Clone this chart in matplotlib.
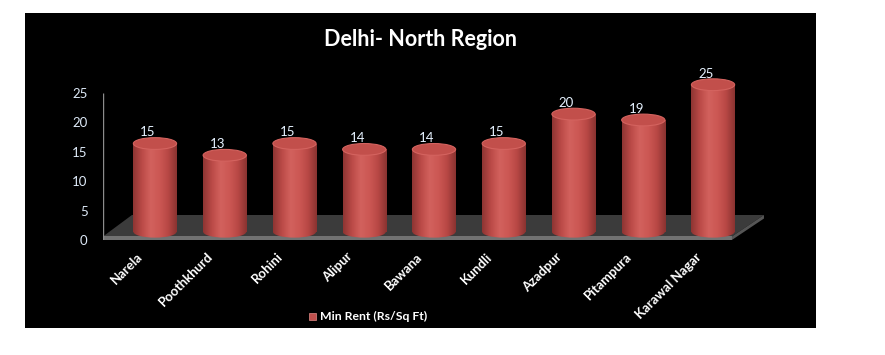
import matplotlib
matplotlib.use("Agg")
import matplotlib.pyplot as plt
import matplotlib.patches as patches
from matplotlib.colors import LinearSegmentedColormap
import numpy as np

# data
areas = ['Narela', 'Poothkhurd', 'Rohini', 'Alipur', 'Bawana',
         'Kundli', 'Azadpur', 'Pitampura', 'Karawal Nagar']
min_rent = [15, 13, 15, 14, 14, 15, 20, 19, 25]
yticks = [0, 5, 10, 15, 20, 25]
series_name = 'Min Rent (Rs/Sq Ft)'
title = 'Delhi- North Region'

plt.rcParams['font.family'] = ['Lato', 'DejaVu Sans']

W, H = 885, 355
fig = plt.figure(figsize=(W / 100, H / 100), dpi=100)
fig.patch.set_facecolor('white')

# black chart area
fig.patches.append(patches.Rectangle((25 / W, 1 - 328 / H), (816 - 25) / W, (328 - 13) / H,
                                     transform=fig.transFigure, facecolor='black',
                                     edgecolor='none', zorder=-5))

ax = fig.add_axes([103 / W, (H - 240) / H, (780 - 103) / W, (240 - 60) / H])
ax.set_facecolor('none')
ax.set_zorder(2)
x0, x1 = -0.745, 8.96
y0, y1 = 0, 30.6

# floor (3d base)
depth = 4.25
floor_top = patches.Polygon([(-0.745, 0.6), (8.27, 0.6), (8.73, depth), (-0.33, depth)],
                            closed=True, facecolor='#3b3b3b', edgecolor='none', zorder=1)
floor_front = patches.Polygon([(-0.745, 0), (8.27, 0), (8.27, 0.6), (-0.745, 0.6)],
                              closed=True, facecolor='#727272', edgecolor='none', zorder=1)
floor_side = patches.Polygon([(8.27, 0), (8.73, depth - 0.6), (8.73, depth), (8.27, 0.6)],
                             closed=True, facecolor='#555555', edgecolor='none', zorder=1)
for p in (floor_top, floor_front, floor_side):
    ax.add_patch(p)

# vertical axis line
ax.plot([x0, x0], [0, 25], color='#8c8c8c', lw=1, zorder=2, solid_capstyle='butt')

# cylinders
cmap = LinearSegmentedColormap.from_list(
    'cyl', ['#8f3533', '#bb4a47', '#d2615d', '#cc5854', '#b94845', '#8a3331'])
grad = np.linspace(0, 1, 64).reshape(1, -1)
w = 0.62
eh = 2.0
base = 1.4
for i, v in enumerate(min_rent):
    top = base + v
    left = i - w / 2
    body = patches.Rectangle((left, base), w, v, facecolor='none', edgecolor='none')
    bottom = patches.Ellipse((i, base), w, eh, facecolor='none', edgecolor='none')
    for clip in (body, bottom):
        ax.add_patch(clip)
        im = ax.imshow(grad, cmap=cmap, aspect='auto',
                       extent=(left, left + w, base - eh / 2, top),
                       zorder=3 + i * 0.1)
        im.set_clip_path(clip)
    cap = patches.Ellipse((i, top), w, eh, facecolor='#c24f4b', edgecolor='#d4635f',
                          lw=0.8, zorder=3.05 + i * 0.1)
    ax.add_patch(cap)
    ax.text(i - 0.1, top + 1.9, str(v), color='#e6f2ff', fontsize=9.5,
            ha='center', va='center', zorder=5)

# category labels
for i, name in enumerate(areas):
    ax.text(i - 0.2, -2.5, name, color='white', fontsize=9.5, fontweight='bold',
            rotation=45, ha='right', va='center', rotation_mode='anchor', zorder=5)

ax.set_xlim(x0, x1)
ax.set_ylim(y0, y1)
ax.set_xticks([])
ax.set_yticks(yticks)
ax.set_yticklabels([str(t) for t in yticks], color='#dde9f7', fontsize=9.5)
ax.tick_params(axis='y', length=0, pad=11)
for s in ax.spines.values():
    s.set_visible(False)

# title
fig.text(420 / W, 1 - 39 / H, title, color='white', fontsize=15.5, fontweight='bold',
         ha='center', va='center')

# legend
fig.patches.append(patches.Rectangle((309 / W, 1 - 320 / H), 7 / W, 7 / H,
                                     transform=fig.transFigure, facecolor='#c0504d',
                                     edgecolor='#e08a87', lw=0.5, zorder=2))
fig.text(320 / W, 1 - 316 / H, series_name, color='white', fontsize=8.8,
         fontweight='bold', ha='left', va='center')

fig.savefig('out.png', dpi=100, facecolor='white')
